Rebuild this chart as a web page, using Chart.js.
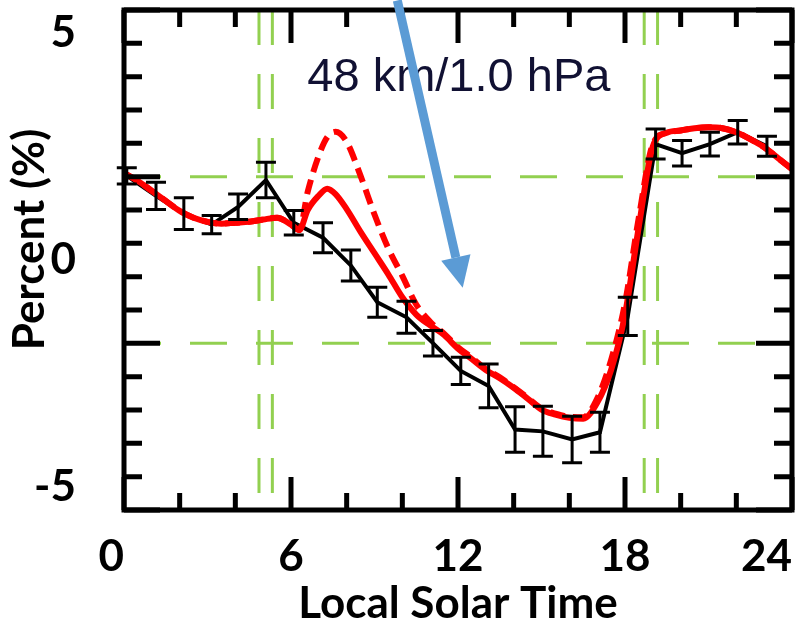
<!DOCTYPE html>
<html>
<head>
<meta charset="utf-8">
<script src="https://cdn.jsdelivr.net/npm/chart.js@4.4.1/dist/chart.umd.min.js"></script>
<style>
  body { margin: 0; background: #fff; }
  canvas { display: block; }
</style>
</head>
<body>
<canvas id="chart" width="799" height="626"></canvas>
<script>
// black observed series (hourly, with error bars)
const obsHours = [0.1, 1.15, 2.15, 3.15, 4.1, 5.1, 6.1, 7.15, 8.15, 9.1, 10.15, 11.1,
  12.1, 13.1, 14.05, 15.05, 16.1, 17.1, 18.1, 19.1, 20.05, 21.05, 22.05, 23.1];
const obsValues = [1.85, 1.41, 1.02, 0.78, 1.17, 1.76, 0.82, 0.49, -0.12, -0.93, -1.26, -1.83,
  -2.44, -2.77, -3.73, -3.77, -3.95, -3.79, -1.24, 2.55, 2.35, 2.55, 2.81, 2.50];
const obsErrors = [0.18, 0.3, 0.35, 0.2, 0.28, 0.39, 0.27, 0.33, 0.34, 0.33, 0.35, 0.28,
  0.3, 0.48, 0.5, 0.55, 0.51, 0.44, 0.42, 0.33, 0.28, 0.26, 0.26, 0.22];

// red model curves
const modelHours = [0, 0.5, 1, 1.5, 2, 2.5, 3, 3.5, 4, 4.5, 5, 5.5, 6, 6.3, 6.6, 7, 7.3, 7.6, 8,
  8.5, 9, 9.5, 10, 10.5, 11, 11.5, 12, 12.5, 13, 13.5, 14, 14.5, 15, 15.5, 16, 16.5, 17,
  17.5, 18, 18.5, 19, 19.5, 20, 20.5, 21, 21.5, 22, 22.5, 23, 23.5, 24];
const modelSolid = [1.91, 1.74, 1.52, 1.30, 1.08, 0.93, 0.84, 0.80, 0.82, 0.84, 0.89, 0.93, 0.78, 0.66, 1.10, 1.42, 1.57, 1.45, 1.12,
  0.62, 0.15, -0.32, -0.82, -1.20, -1.44, -1.65, -1.95, -2.18, -2.42, -2.60, -2.81, -3.05, -3.29, -3.40, -3.47, -3.49, -3.14,
  -2.42, -1.20, 0.75, 2.50, 2.80, 2.85, 2.90, 2.92, 2.90, 2.81, 2.66, 2.48, 2.24, 2.00];
const modelDashed = [1.91, 1.74, 1.52, 1.30, 1.08, 0.93, 0.84, 0.80, 0.82, 0.84, 0.89, 0.93, 0.78, 0.66, 1.50, 2.30, 2.70, 2.82, 2.60,
  1.85, 1.00, 0.25, -0.35, -0.98, -1.36, -1.62, -1.92, -2.15, -2.40, -2.58, -2.80, -3.03, -3.27, -3.38, -3.45, -3.46, -3.05,
  -2.20, -0.95, 0.95, 2.55, 2.80, 2.85, 2.90, 2.92, 2.90, 2.81, 2.66, 2.48, 2.24, 2.00];

// axes
const xLabelHours = [0, 6, 12, 18, 24];
const xMinorHours = [0, 2, 4, 6, 8, 10, 12, 14, 16, 18, 20, 22, 24];
const yLabelValues = [-5, 0, 5];
const yMinorValues = [-5.5, -4.77, -4.03, -3.3, -2.57, -1.83, -1.1, -0.37, 0.37, 1.1, 1.83, 2.57, 3.3, 4.03, 4.77, 5.5];
const yMajorValues = [-5.5, -1.83, 1.83, 5.5];
const yTitle = 'Percent (%)';
const xTitle = 'Local Solar Time';

// green reference lines
const sunHours = [4.85, 5.33, 18.69, 19.17];
const refLevels = [1.83, -1.83];

// annotation
const labelText = '48 km/1.0 hPa';
const labelAt = { x: 12.03, y: 3.71 };
const arrowFrom = { x: 9.82, y: 5.71 };
const arrowTo = { x: 12.17, y: -0.61 };

const green = '#92D050';
const datasets = [];

sunHours.forEach(h => datasets.push({
  data: [{ x: h, y: 5.5 }, { x: h, y: -5.5 }],
  borderColor: green, borderWidth: 3, borderDash: [35, 29], pointRadius: 0, order: 10
}));
refLevels.forEach(v => datasets.push({
  data: [{ x: 0, y: v }, { x: 24, y: v }],
  borderColor: green, borderWidth: 3, borderDash: [37, 29], pointRadius: 0, order: 10
}));

datasets.push({
  label: 'obs',
  data: obsHours.map((h, i) => ({ x: h, y: obsValues[i] })),
  borderColor: '#000', borderWidth: 4, pointRadius: 0, tension: 0, order: 3
});
datasets.push({
  label: 'dashed',
  data: modelHours.map((h, i) => ({ x: h, y: modelDashed[i] })),
  borderColor: '#ff0000', borderWidth: 6, borderDash: [15, 8], pointRadius: 0,
  cubicInterpolationMode: 'monotone', order: 2
});
datasets.push({
  label: 'solid',
  data: modelHours.map((h, i) => ({ x: h, y: modelSolid[i] })),
  borderColor: '#ff0000', borderWidth: 6, pointRadius: 0,
  cubicInterpolationMode: 'monotone', order: 1
});

const axisFont = { family: 'Lato', weight: 'bold', size: 44, lineHeight: 1 };

const frameAndBars = {
  id: 'frameAndBars',
  beforeDraw(chart) {
    // end labels sit just outside the frame corners
    const items = chart.scales.x.getLabelItems(chart.chartArea);
    items[0].options.textAlign = 'right';
    items[items.length - 1].options.textAlign = 'right';
  },
  afterDatasetsDraw(chart) {
    const { ctx, chartArea: a, scales: { x, y } } = chart;
    ctx.save();
    // error bars
    ctx.strokeStyle = '#000';
    ctx.lineWidth = 3;
    obsHours.forEach((h, i) => {
      const px = x.getPixelForValue(h);
      const top = y.getPixelForValue(obsValues[i] + obsErrors[i]);
      const bot = y.getPixelForValue(obsValues[i] - obsErrors[i]);
      ctx.beginPath();
      ctx.moveTo(px, top); ctx.lineTo(px, bot);
      ctx.moveTo(px - 10, top); ctx.lineTo(px + 10, top);
      ctx.moveTo(px - 10, bot); ctx.lineTo(px + 10, bot);
      ctx.stroke();
    });
    // frame
    ctx.lineWidth = 5;
    ctx.strokeRect(a.left, a.top, a.right - a.left, a.bottom - a.top);
    // inward tick marks
    ctx.beginPath();
    xMinorHours.forEach(h => {
      const px = x.getPixelForValue(h);
      const len = xLabelHours.includes(h) ? 33 : 17;
      ctx.moveTo(px, a.bottom); ctx.lineTo(px, a.bottom - len);
      ctx.moveTo(px, a.top); ctx.lineTo(px, a.top + len);
    });
    yMinorValues.forEach(v => {
      const py = y.getPixelForValue(v);
      const len = yMajorValues.includes(v) ? 36 : 18;
      ctx.moveTo(a.left, py); ctx.lineTo(a.left + len, py);
      ctx.moveTo(a.right, py); ctx.lineTo(a.right - len, py);
    });
    ctx.stroke();
    ctx.restore();
  },
  afterDraw(chart) {
    const { ctx, scales: { x, y } } = chart;
    ctx.save();
    // y axis title, a little above the middle as in the original
    ctx.save();
    ctx.translate(30, y.getPixelForValue(0.45));
    ctx.rotate(-Math.PI / 2);
    ctx.font = 'bold 44px Lato';
    ctx.fillStyle = '#000';
    ctx.textAlign = 'center';
    ctx.textBaseline = 'middle';
    ctx.fillText(yTitle, 0, 0);
    ctx.restore();
    // label
    ctx.font = '47px "Liberation Sans", Arial, sans-serif';
    ctx.fillStyle = '#111133';
    ctx.textAlign = 'center';
    ctx.textBaseline = 'alphabetic';
    ctx.fillText(labelText, x.getPixelForValue(labelAt.x), y.getPixelForValue(labelAt.y));
    // arrow
    const x0 = x.getPixelForValue(arrowFrom.x), y0 = y.getPixelForValue(arrowFrom.y);
    const x1 = x.getPixelForValue(arrowTo.x), y1 = y.getPixelForValue(arrowTo.y);
    const ang = Math.atan2(y1 - y0, x1 - x0);
    const headLen = 31, headHalf = 15;
    const bx = x1 - headLen * Math.cos(ang), by = y1 - headLen * Math.sin(ang);
    ctx.strokeStyle = '#5B9BD5';
    ctx.fillStyle = '#5B9BD5';
    ctx.lineWidth = 9;
    ctx.beginPath();
    ctx.moveTo(x0, y0); ctx.lineTo(bx, by);
    ctx.stroke();
    ctx.beginPath();
    ctx.moveTo(x1, y1);
    ctx.lineTo(bx + headHalf * Math.sin(ang), by - headHalf * Math.cos(ang));
    ctx.lineTo(bx - headHalf * Math.sin(ang), by + headHalf * Math.cos(ang));
    ctx.closePath();
    ctx.fill();
    ctx.restore();
  }
};

new Chart(document.getElementById('chart'), {
  type: 'line',
  data: { datasets: datasets },
  options: {
    responsive: false,
    animation: false,
    layout: { padding: { top: 10, right: 7, left: 0, bottom: 0 } },
    plugins: { legend: { display: false }, tooltip: { enabled: false } },
    scales: {
      x: {
        type: 'linear', min: 0, max: 24,
        afterBuildTicks: s => { s.ticks = xLabelHours.map(v => ({ value: v })); },
        afterFit: s => { s.height = 116; s.paddingLeft = 0; s.paddingRight = 0; },
        grid: { display: false }, border: { display: false },
        ticks: { color: '#000', font: axisFont, padding: 17, maxRotation: 0 },
        title: { display: true, text: xTitle, color: '#000', font: axisFont, padding: { top: 0, bottom: 0 } }
      },
      y: {
        type: 'linear', min: -5.5, max: 5.5,
        afterBuildTicks: s => { s.ticks = yLabelValues.map(v => ({ value: v })); },
        afterFit: s => { s.width = 124; s.paddingTop = 0; s.paddingBottom = 0; },
        grid: { display: false }, border: { display: false },
        ticks: { color: '#000', font: axisFont, padding: 40 }
      }
    }
  },
  plugins: [frameAndBars]
});
</script>
</body>
</html>
